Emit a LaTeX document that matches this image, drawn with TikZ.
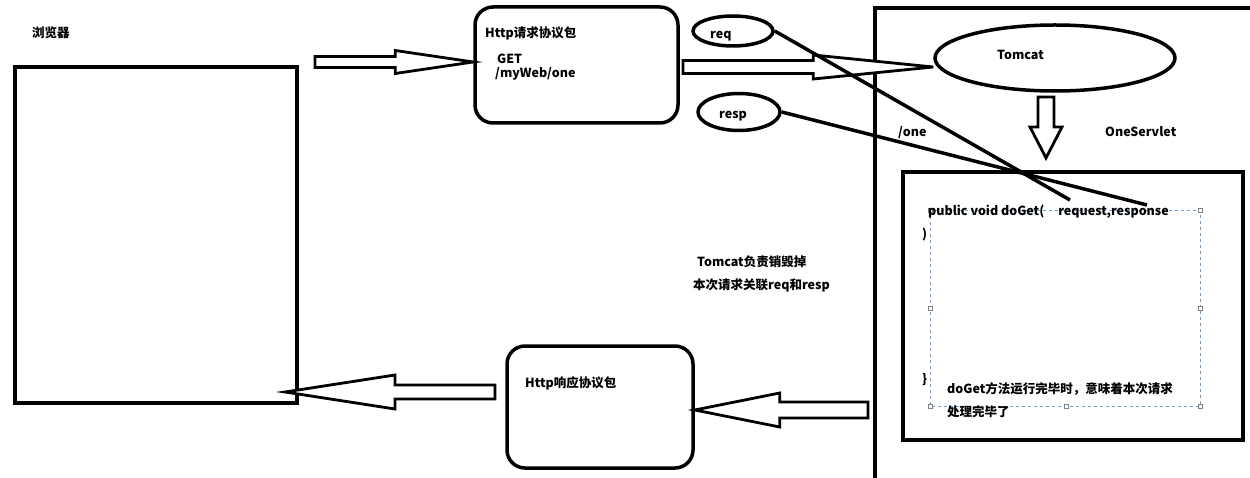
\documentclass[tikz,border=0pt]{standalone}
\usepackage{fontspec}
\setmainfont{Noto Sans CJK SC}
\usepackage{tikz}
\usetikzlibrary{calc,shapes.geometric}
\definecolor{selblue}{RGB}{110,160,210}

\newcommand{\blockarrow}[5]{%
  \path ($(#2)!#5!(#1)$) coordinate (hb);
  \draw[hollow] ($(#1)!#3!90:(#2)$) -- ($(hb)!#3!90:(#2)$) -- ($(hb)!#4!90:(#2)$) -- (#2)
    -- ($(hb)!#4!-90:(#2)$) -- ($(hb)!#3!-90:(#2)$) -- ($(#1)!#3!-90:(#2)$) -- cycle;
}

\begin{document}
\begin{tikzpicture}[x=1pt,y=-1pt,
    box/.style={draw, line width=3.5pt, inner sep=0pt},
    rbox/.style={box, rounded corners=18pt},
    oval/.style={draw, ellipse, line width=3.5pt, inner sep=0pt},
    hollow/.style={draw, line width=2.8pt, fill=white, line join=miter},
    wire/.style={line width=3.5pt},
    lbl/.style={font=\fontsize{12.5}{15}\selectfont\bfseries, inner sep=0pt, anchor=west},
    selbox/.style={draw=selblue, dashed, line width=0.8pt},
    handle/.style={draw=gray, fill=white, minimum size=4pt, inner sep=0pt, line width=0.5pt}]
  \useasboundingbox (0,0) rectangle (1250,478);

  \node[box, minimum width=282pt, minimum height=336pt] (browser) at (156,235) {};
  \node[rbox, minimum width=203pt, minimum height=116pt] (reqpkg) at (576.5,65) {};
  \node[rbox, minimum width=186pt, minimum height=122pt] (resppkg) at (600,407) {};
  \node[oval, minimum width=80pt, minimum height=30pt] (req) at (733,31) {};
  \node[oval, minimum width=82pt, minimum height=37pt] (resp) at (739,112) {};
  \node[oval, minimum width=240pt, minimum height=66pt] (tomcat) at (1055,58) {};
  \node[box, minimum width=340pt, minimum height=268pt] (servlet) at (1073,306) {};
  \draw[wire] (875,478) -- (875,8) -- (1250,8);

  \draw[selbox] (930,210) rectangle (1200,406);
  \foreach \x/\y in {930/210,1200/210,930/308,1200/308,930/406,1066/406,1200/406}
    \node[handle] at (\x,\y) {};

  \node[lbl] (browserlbl) at (32,33) {浏览器};
  \node[lbl] (reqtitle) at (485,33) {Http请求协议包};
  \node[lbl] (reqget) at (497,59) {GET};
  \node[lbl] (requrl) at (495,74) {/myWeb/one};
  \node[lbl] (reqlbl) at (710,36) {req};
  \node[lbl] (resplbl) at (719,116) {resp};
  \node[lbl] (tomcatlbl) at (997,55) {Tomcat};
  \node[lbl] (onelbl) at (898,133) {/one};
  \node[lbl] (servletlbl) at (1105,132) {OneServlet};
  \node[lbl] (sig) at (928,212) {public void doGet(\hspace{14pt}request,response};
  \node[lbl] (sigend) at (922,235) {)};
  \node[lbl] (bodyend) at (922,380) {\}};
  \node[lbl] (donelbl) at (947,389) {doGet方法运行完毕时，意味着本次请求};
  \node[lbl] (donelbl2) at (947,412) {处理完毕了};
  \node[lbl] (destroy) at (697,262) {Tomcat负责销毁掉};
  \node[lbl] (destroy2) at (693,285) {本次请求关联req和resp};
  \node[lbl] (resptitle) at (525,383) {Http响应协议包};

  \coordinate (intail) at (315,62);
  \coordinate (intip) at (reqpkg.west |- intail);
  \coordinate (fwdtail) at (683,67);
  \coordinate (fwdtip) at (tomcat.west |- fwdtail);
  \coordinate (downtail) at (1046,97);
  \coordinate (downtip) at (1046,158);
  \coordinate (outtail) at (868,410);
  \coordinate (outtip) at (resppkg.east |- outtail);
  \coordinate (backtail) at (495,392);
  \coordinate (backtip) at (285,392);
  \blockarrow{intail}{intip}{5.5pt}{11.5pt}{78pt}
  \blockarrow{fwdtail}{fwdtip}{6.5pt}{12pt}{120pt}
  \blockarrow{downtail}{downtip}{8pt}{16pt}{31pt}
  \blockarrow{outtail}{outtip}{8pt}{17pt}{85pt}
  \blockarrow{backtail}{backtip}{7pt}{17pt}{110pt}

  \coordinate (reqend) at (1070,200);
  \coordinate (respend) at (1147,205);
  \draw[wire] (req.east) -- (reqend);
  \draw[wire] (resp.east) -- (respend);
\end{tikzpicture}
\end{document}
